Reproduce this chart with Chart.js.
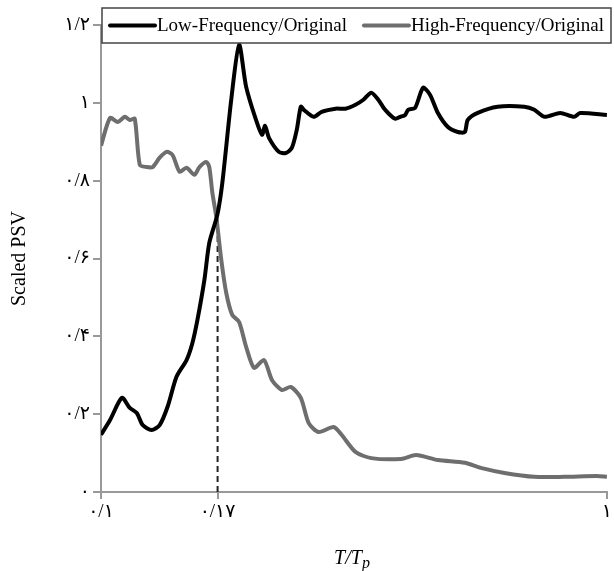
<!DOCTYPE html>
<html>
<head>
<meta charset="utf-8">
<script src="https://cdn.jsdelivr.net/npm/chart.js@4.4.1/dist/chart.umd.min.js"></script>
<style>
  html, body { margin: 0; padding: 0; background: #fff; }
  #wrap { width: 614px; height: 571px; }
</style>
</head>
<body>
<div id="wrap"><canvas id="chart" width="614" height="571"></canvas></div>
<script>
// T/Tp periods and scaled PSV
const lowT = [0.1, 0.1042, 0.1100, 0.1140, 0.1177, 0.1209, 0.1259, 0.1306, 0.1354, 0.1410, 0.1476, 0.1516, 0.1551, 0.1601, 0.1637, 0.1698, 0.1737, 0.1809, 0.1875, 0.1936, 0.2025, 0.2081, 0.2110, 0.2148, 0.2247, 0.2319, 0.2383, 0.2438, 0.2483, 0.2517, 0.2633, 0.2730, 0.2909, 0.3043, 0.3184, 0.3301, 0.3422, 0.3532, 0.3646, 0.3815, 0.3903, 0.3992, 0.4047, 0.4177, 0.4331, 0.4470, 0.4634, 0.4850, 0.5074, 0.5237, 0.5309, 0.5555, 0.6080, 0.6869, 0.7188, 0.7520, 0.8085, 0.8613, 0.8851, 1.0];
const lowPSV = [0.147, 0.185, 0.242, 0.216, 0.203, 0.172, 0.159, 0.172, 0.219, 0.296, 0.339, 0.383, 0.442, 0.545, 0.640, 0.712, 0.794, 1.008, 1.149, 1.041, 0.956, 0.918, 0.941, 0.910, 0.874, 0.871, 0.884, 0.931, 0.990, 0.982, 0.964, 0.977, 0.985, 0.985, 0.995, 1.008, 1.026, 1.008, 0.982, 0.959, 0.964, 0.969, 0.982, 0.987, 1.039, 1.021, 0.974, 0.938, 0.925, 0.925, 0.956, 0.974, 0.990, 0.990, 0.982, 0.964, 0.974, 0.964, 0.974, 0.969];

const highT = [0.1, 0.1042, 0.1080, 0.1115, 0.1140, 0.1166, 0.1193, 0.1231, 0.1265, 0.1306, 0.1348, 0.1385, 0.1430, 0.1476, 0.1530, 0.1565, 0.1615, 0.1637, 0.1660, 0.1690, 0.1729, 0.1768, 0.1817, 0.1875, 0.1936, 0.2007, 0.2100, 0.2177, 0.2278, 0.2372, 0.2483, 0.2574, 0.2693, 0.2883, 0.2989, 0.3184, 0.3422, 0.3920, 0.4196, 0.4634, 0.5237, 0.5631, 0.6275, 0.7188, 0.8232, 0.9559, 1.0];
const highPSV = [0.890, 0.961, 0.951, 0.964, 0.956, 0.959, 0.841, 0.835, 0.835, 0.859, 0.874, 0.866, 0.823, 0.833, 0.815, 0.835, 0.848, 0.835, 0.769, 0.707, 0.596, 0.512, 0.455, 0.437, 0.373, 0.319, 0.339, 0.288, 0.262, 0.270, 0.242, 0.177, 0.154, 0.167, 0.147, 0.103, 0.087, 0.085, 0.095, 0.082, 0.075, 0.062, 0.049, 0.039, 0.039, 0.041, 0.039];

// dashed marker at T/Tp = 0.17
const markerT = [0.17, 0.17];
const markerPSV = [0, 0.70];

const xTickValues = [0.1, 0.17, 1];
const xTickLabels = ['۰/۱', '۰/۱۷', '۱'];
const yTickValues = [0, 0.2, 0.4, 0.6, 0.8, 1.0, 1.2];
const yTickLabels = ['۰', '۰/۲', '۰/۴', '۰/۶', '۰/۸', '۱', '۱/۲'];

const seriesNames = ['Low-Frequency/Original', 'High-Frequency/Original'];
const seriesColors = ['#000000', '#6e6e6e'];

const serif = "'Liberation Serif', 'Times New Roman', 'DejaVu Serif', 'DejaVu Sans', serif";

function toPoints(xs, ys) {
  return xs.map((x, i) => ({ x: x, y: ys[i] }));
}

// boxed legend that sits over the top of the plot
const boxLegend = {
  id: 'boxLegend',
  afterDraw(chart) {
    const ctx = chart.ctx;
    const left = 102, top = 8, width = 509, height = 35;
    const midY = top + height / 2;
    ctx.save();
    ctx.fillStyle = '#fff';
    ctx.fillRect(left, top, width, height);
    ctx.strokeStyle = '#444';
    ctx.lineWidth = 1.5;
    ctx.strokeRect(left, top, width, height);
    ctx.font = '19px ' + serif;
    ctx.textBaseline = 'middle';
    let x = left + 8;
    seriesNames.forEach((name, i) => {
      ctx.strokeStyle = seriesColors[i];
      ctx.lineWidth = 4;
      ctx.lineCap = 'round';
      ctx.beginPath();
      ctx.moveTo(x, midY);
      ctx.lineTo(x + 45, midY);
      ctx.stroke();
      x += 47;
      ctx.fillStyle = '#000';
      ctx.fillText(name, x, midY + 1);
      x += ctx.measureText(name).width + 17;
    });
    ctx.restore();
  }
};

// x title T/Tp with subscript p
const xTitle = {
  id: 'xTitle',
  afterDraw(chart) {
    const ctx = chart.ctx;
    ctx.save();
    ctx.fillStyle = '#000';
    ctx.textBaseline = 'alphabetic';
    const big = 'italic 20px ' + serif, small = 'italic 16px ' + serif;
    ctx.font = big;
    const w1 = ctx.measureText('T/T').width;
    ctx.font = small;
    const w2 = ctx.measureText('p').width;
    const x0 = 352 - (w1 + w2) / 2, base = 564;
    ctx.font = big;
    ctx.fillText('T/T', x0, base);
    ctx.font = small;
    ctx.fillText('p', x0 + w1, base + 4);
    ctx.restore();
  }
};

new Chart(document.getElementById('chart'), {
  type: 'line',
  data: {
    datasets: [
      {
        label: seriesNames[0],
        data: toPoints(lowT, lowPSV),
        borderColor: seriesColors[0],
        borderWidth: 4,
        pointRadius: 0,
        tension: 0.25,
        fill: false,
        order: 1
      },
      {
        label: seriesNames[1],
        data: toPoints(highT, highPSV),
        borderColor: seriesColors[1],
        borderWidth: 4,
        pointRadius: 0,
        tension: 0.25,
        fill: false,
        order: 2
      },
      {
        label: 'marker',
        data: toPoints(markerT, markerPSV),
        borderColor: '#222',
        borderWidth: 2,
        borderDash: [6, 4],
        pointRadius: 0,
        fill: false,
        order: 3
      }
    ]
  },
  options: {
    responsive: false,
    animation: false,
    layout: { padding: { top: 25, right: 3, left: 0, bottom: 0 } },
    plugins: {
      legend: { display: false },
      tooltip: { enabled: false }
    },
    scales: {
      x: {
        type: 'logarithmic',
        min: 0.1,
        max: 1,
        afterBuildTicks: s => { s.ticks = xTickValues.map(v => ({ value: v })); },
        afterFit: s => { s.height = 79; },
        ticks: {
          callback: (v, i) => xTickLabels[i],
          autoSkip: false,
          maxRotation: 0,
          color: '#000',
          padding: 2,
          font: { family: serif, size: 19 }
        },
        grid: { drawOnChartArea: false, drawTicks: true, tickLength: 7, color: '#999', lineWidth: 2 },
        border: { display: true, color: '#999', width: 2 }
      },
      y: {
        min: 0,
        max: 1.2,
        afterBuildTicks: s => { s.ticks = yTickValues.map(v => ({ value: v })); },
        afterFit: s => { s.width = 101; },
        ticks: {
          callback: (v, i) => yTickLabels[i],
          autoSkip: false,
          color: '#000',
          padding: 3,
          font: { family: serif, size: 19 }
        },
        grid: { drawOnChartArea: false, drawTicks: true, tickLength: 8, color: '#999', lineWidth: 2 },
        border: { display: true, color: '#999', width: 2 },
        title: {
          display: true,
          text: 'Scaled PSV',
          color: '#000',
          padding: { top: 8, bottom: 0 },
          font: { family: serif, size: 20 }
        }
      }
    }
  },
  plugins: [boxLegend, xTitle]
});
</script>
</body>
</html>
